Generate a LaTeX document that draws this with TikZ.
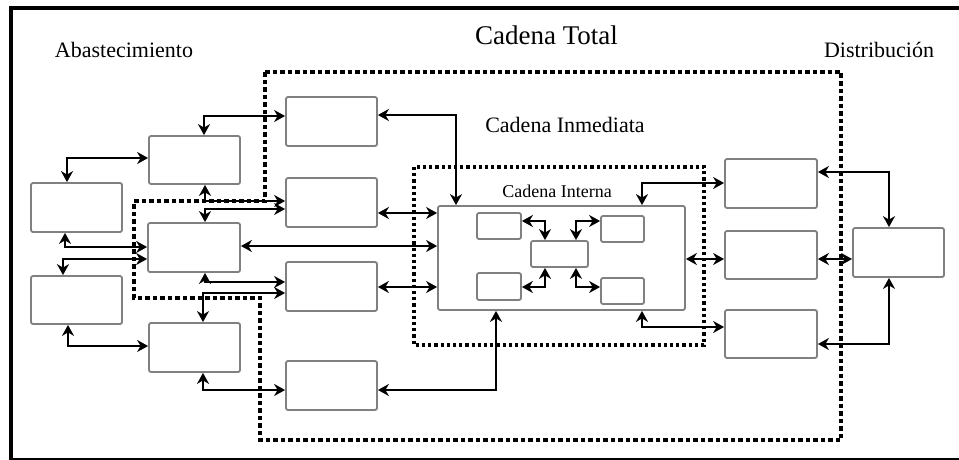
\documentclass[tikz,border=0pt]{standalone}
\usepackage{fontspec}
\setmainfont{Liberation Serif}
\usetikzlibrary{arrows.meta}
\tikzset{
  box/.style={draw=black!50, line width=1.8pt, rounded corners=2pt, fill=white, inner sep=0pt},
  dar/.style={{Stealth[length=11pt,width=12pt,inset=3.5pt]}-{Stealth[length=11pt,width=12pt,inset=3.5pt]}, line width=1.4pt},
  bigdots/.style={line width=4.5pt, dash pattern=on 4.5pt off 3pt},
  smalldots/.style={line width=3.2pt, dash pattern=on 3.2pt off 3pt},
  lbl/.style={inner sep=0pt, anchor=center}
}
\begin{document}
\begin{tikzpicture}[x=1pt,y=-1pt]
\useasboundingbox (0,0) rectangle (959,460);
% frame
\draw[line width=4pt] (11,8) -- (11,460);
\draw[line width=3.5pt] (9,8) -- (959,8);
\draw[line width=2pt] (11,459) -- (959,459);
% titles
\node[lbl, font=\fontsize{22}{24}\selectfont] (tAb) at (124,50) {Abastecimiento};
\node[lbl, font=\fontsize{27}{30}\selectfont] (tTot) at (546.5,35) {Cadena Total};
\node[lbl, font=\fontsize{22}{24}\selectfont] (tDis) at (879,50) {Distribución};
\node[lbl, font=\fontsize{22}{24}\selectfont] (tInm) at (565,125) {Cadena Inmediata};
\node[lbl, font=\fontsize{18}{20}\selectfont] (tInt) at (557,191) {Cadena Interna};
% dotted regions
\draw[bigdots] (265,72) -- (841,72) -- (841,440) -- (260,440) -- (260,298) -- (134,298) -- (134,201) -- (265,201) -- cycle;
\draw[smalldots] (414,167) rectangle (704,345);
% boxes
\node[box, minimum width=91pt, minimum height=49pt] (A1) at (76.5,207.5) {};
\node[box, minimum width=91pt, minimum height=48pt] (A2) at (76.5,300) {};
\node[box, minimum width=91pt, minimum height=48pt] (B1) at (194.5,160) {};
\node[box, minimum width=92pt, minimum height=49pt] (B2) at (194,247.5) {};
\node[box, minimum width=91pt, minimum height=49pt] (B3) at (194.5,347.5) {};
\node[box, minimum width=91pt, minimum height=49pt] (C1) at (331.5,121.5) {};
\node[box, minimum width=91pt, minimum height=49pt] (C2) at (331.5,202.5) {};
\node[box, minimum width=91pt, minimum height=49pt] (C3) at (331.5,286.5) {};
\node[box, minimum width=91pt, minimum height=49pt] (C4) at (331.5,385.5) {};
\node[box, minimum width=247pt, minimum height=104pt] (Big) at (561.5,258) {};
\node[box, minimum width=92pt, minimum height=49pt] (D1) at (771,183.5) {};
\node[box, minimum width=92pt, minimum height=48pt] (D2) at (771,255) {};
\node[box, minimum width=92pt, minimum height=48pt] (D3) at (771,334) {};
\node[box, minimum width=91pt, minimum height=49pt] (E) at (898.5,252.5) {};
\node[box, minimum width=44pt, minimum height=26pt] (I1) at (499,226) {};
\node[box, minimum width=43pt, minimum height=26pt] (I2) at (622.5,229) {};
\node[box, minimum width=57pt, minimum height=26pt] (I3) at (559.5,254) {};
\node[box, minimum width=44pt, minimum height=27pt] (I4) at (499,286.5) {};
\node[box, minimum width=43pt, minimum height=26pt] (I5) at (622.5,291) {};
% connectors, left part
\draw[dar] (A1.north -| 67,0) |- (B1.west |- 0,158);
\draw[dar] (B1.north -| 204,0) |- (C1.west |- 0,116);
\draw[dar] (B1.south -| 205,0) |- (C2.west |- 0,201);
\draw[dar] (B2.north -| 205,0) |- (C2.west |- 0,209);
\draw[dar] (A1.south -| 65,0) |- (B2.west |- 0,247);
\draw[dar] (A2.north -| 63,0) |- (B2.west |- 0,259);
\draw[dar] (B2.south -| 205,0) |- (C3.west |- 0,282);
\draw[dar] (B3.north -| 203,0) |- (C3.west |- 0,293);
\draw[dar] (A2.south -| 68,0) |- (B3.west |- 0,346);
\draw[dar] (B3.south -| 203,0) |- (C4.west |- 0,390);
% to the internal chain
\draw[dar] (B2.east |- 0,246) -- (Big.west |- 0,246);
\draw[dar] (C1.east |- 0,115) -| (Big.north -| 456,0);
\draw[dar] (C2.east |- 0,213) -- (Big.west |- 0,213);
\draw[dar] (C3.east |- 0,287) -- (Big.west |- 0,287);
\draw[dar] (C4.east |- 0,390) -| (Big.south -| 496,0);
% right part
\draw[dar] (Big.north -| 642,0) |- (D1.west |- 0,183);
\draw[dar] (Big.east |- 0,259) -- (D2.west |- 0,259);
\draw[dar] (Big.south -| 642,0) |- (D3.west |- 0,327);
\draw[dar] (D1.east |- 0,172) -| (E.north -| 889,0);
\draw[dar] (D2.east |- 0,259) -- (E.west |- 0,259);
\draw[dar] (D3.east |- 0,344) -| (E.south -| 889,0);
% inner
\draw[dar] (I1.east |- 0,221) -| (I3.north -| 545,0);
\draw[dar] (I2.west |- 0,221) -| (I3.north -| 576,0);
\draw[dar] (I4.east |- 0,287) -| (I3.south -| 545,0);
\draw[dar] (I5.west |- 0,287) -| (I3.south -| 576,0);
\end{tikzpicture}
\end{document}
